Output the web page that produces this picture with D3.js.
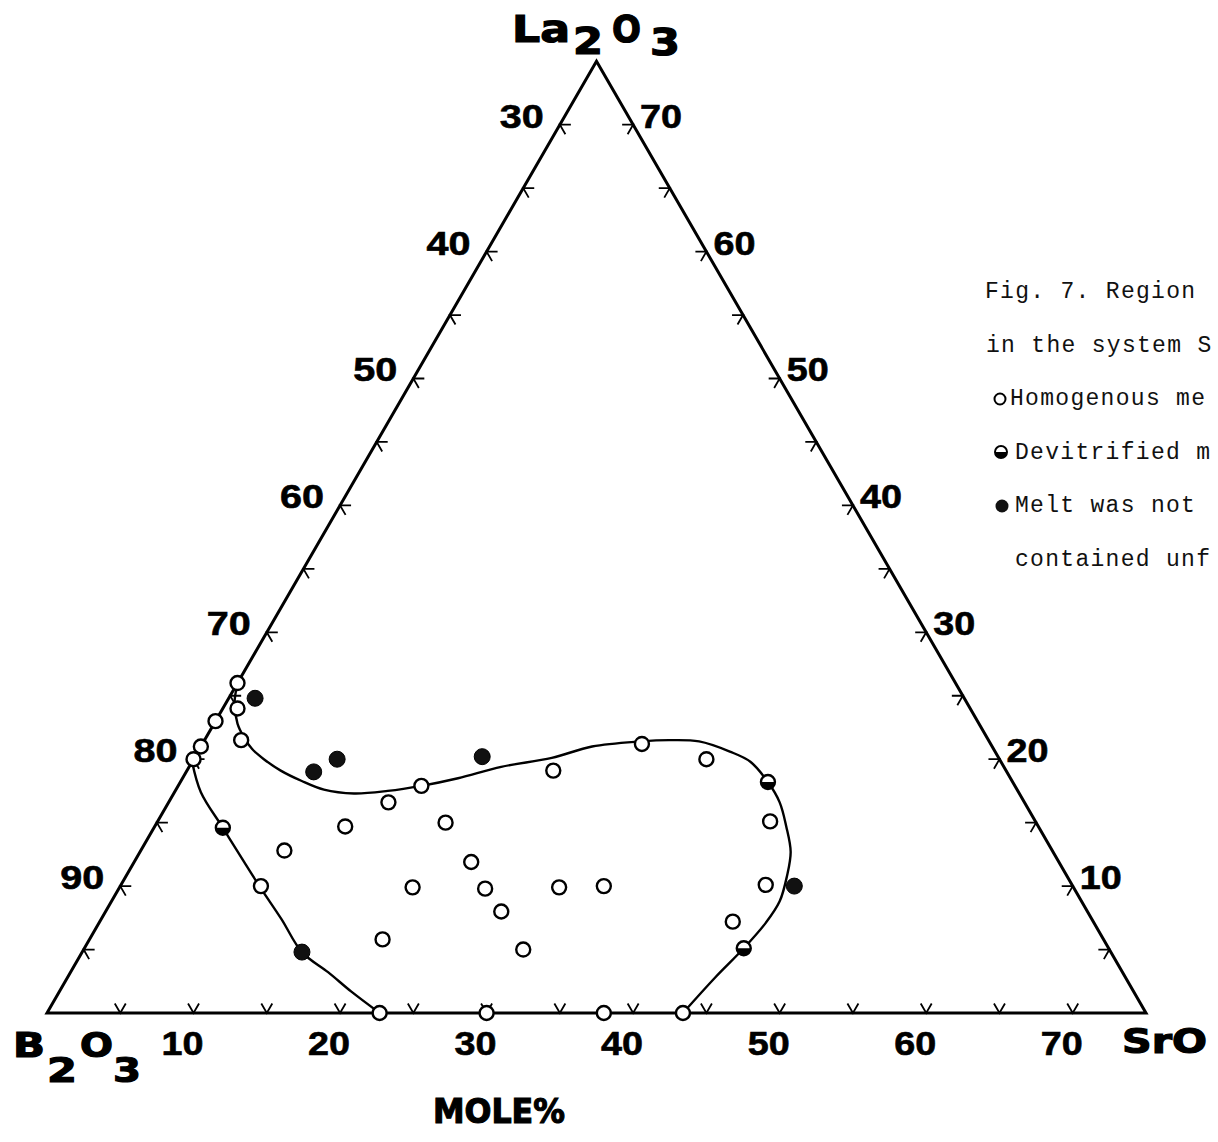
<!DOCTYPE html>
<html>
<head>
<meta charset="utf-8">
<script src="https://cdn.jsdelivr.net/npm/d3@7"></script>
<style>
  body { margin: 0; background: #fff; }
  svg { display: block; }
</style>
</head>
<body>
<script>
// compositions are [SrO, La2O3] in mole%, B2O3 is the rest
const homogeneous = [
  [0, 26], [1, 24], [0, 23], [2.5, 21.5], [0, 21], [0, 20],
  [16.6, 17.9], [15, 16.6], [13, 14.7], [19.7, 15], [9.8, 12.8], [23, 11.9],
  [20, 9.9], [25, 9.8], [9.6, 10], [25, 19.1], [30, 21.2], [35, 20],
  [41.8, 15.1], [44, 10.1], [43.2, 7.2], [30, 9.9], [33, 10], [27, 8],
  [30, 5], [20, 5.8], [22.7, 0], [30, 0], [38, 0], [43.4, 0]
];
const devitrified = [[4.7, 14.6], [40.1, 18.2], [45, 5.1]];
const notMelted = [[1.8, 24.8], [9.8, 20], [8.7, 19], [19.6, 20.2], [46, 10], [15, 4.8]];

// glass forming region boundaries
const upperBoundary = [
  [0, 26], [0.6, 24.4], [1.6, 22.8], [2.6, 21.7], [3.6, 20.8], [4.8, 20], [6.4, 19.1], [8.2, 18.3],
  [10.1, 17.6], [12.3, 17.3], [14.5, 17.5], [16.6, 17.9], [18.8, 18.5], [21.3, 19.4],
  [24.4, 20.1], [26.7, 21], [29.8, 21.4], [31.7, 21.5], [33.8, 21.4], [36.3, 20.6],
  [38.1, 19.8], [40.1, 18.2], [41.7, 16.6], [43.1, 14.7], [44.4, 12.7], [45.1, 10.8],
  [45.6, 8.8], [45.5, 7.1], [45, 5.1], [44.2, 2.8], [43.4, 0]
];
const lowerBoundary = [
  [0, 19.8], [1.8, 17.4], [4.7, 14.6], [7.5, 11.9], [9.6, 9.9], [12.3, 7.4],
  [15, 4.8], [17.6, 3.2], [19.9, 1.7], [22.7, 0]
];

const tickValues = [5, 10, 15, 20, 25, 30, 35, 40, 45, 50, 55, 60, 65, 70];
const bottomLabels = [10, 20, 30, 40, 50, 60, 70];      // SrO
const leftLabels = [30, 40, 50, 60, 70, 80, 90];        // B2O3
const rightLabels = [70, 60, 50, 40, 30, 20, 10];       // La2O3

// caption as far as the scan shows it
const legendLines = [
  "Fig. 7. Region",
  "in the system S",
  "Homogenous me",
  "Devitrified m",
  "Melt was not",
  "contained unf"
];

const W = 1218, H = 1142;
const svg = d3.select('body').append('svg')
  .attr('width', W)
  .attr('height', H);

// triangle side covers 75 mole%
const xScale = d3.scaleLinear().domain([0, 75]).range([47, 1146]);
const yScale = d3.scaleLinear().domain([0, 75]).range([1013, 1013 - 1099 * Math.sqrt(3) / 2]);
const px = d => xScale(d[0] + d[1] / 2);
const py = d => yScale(d[1]);

const line = d3.line().x(px).y(py);

// frame
svg.append('path')
  .attr('d', line([[0, 0], [75, 0], [0, 75]]) + 'Z')
  .attr('fill', 'none')
  .attr('stroke', '#000')
  .attr('stroke-width', 3)
  .attr('stroke-linejoin', 'miter');

// ticks
const len = 11, c = Math.cos(Math.PI / 3) * len, s = Math.sin(Math.PI / 3) * len;
const ticks = svg.append('g').attr('stroke', '#000').attr('stroke-width', 1.8).attr('fill', 'none');

ticks.selectAll('path.bottom').data(tickValues).join('path')
  .attr('class', 'bottom')
  .attr('d', v => {
    const x = px([v, 0]), y = py([v, 0]);
    return `M${x - c},${y - s}L${x},${y}L${x + c},${y - s}`;
  });

ticks.selectAll('path.left').data(tickValues).join('path')
  .attr('class', 'left')
  .attr('d', v => {
    const x = px([0, v]), y = py([0, v]);
    return `M${x + len},${y}L${x},${y}L${x + c},${y + s}`;
  });

ticks.selectAll('path.right').data(tickValues).join('path')
  .attr('class', 'right')
  .attr('d', v => {
    const x = px([75 - v, v]), y = py([75 - v, v]);
    return `M${x - len},${y}L${x},${y}L${x - c},${y + s}`;
  });

// tick labels
const num = svg.append('g')
  .attr('font-family', '"Liberation Sans", Arial, sans-serif')
  .attr('font-weight', 'bold')
  .attr('font-size', 33)
  .attr('fill', '#000')
  .attr('stroke', '#000')
  .attr('stroke-width', 0.6);

num.selectAll('text.bottom').data(bottomLabels).join('text')
  .attr('class', 'bottom')
  .attr('x', v => px([v, 0]) - 32)
  .attr('y', 1055)
  .attr('textLength', 42).attr('lengthAdjust', 'spacingAndGlyphs')
  .text(v => v);

num.selectAll('text.left').data(leftLabels).join('text')
  .attr('class', 'left')
  .attr('x', v => px([0, 100 - v]) - 60)
  .attr('y', v => py([0, 100 - v]) + 3)
  .attr('textLength', 44).attr('lengthAdjust', 'spacingAndGlyphs')
  .text(v => v);

num.selectAll('text.right').data(rightLabels).join('text')
  .attr('class', 'right')
  .attr('x', v => px([75 - v, v]) + 7)
  .attr('y', v => py([75 - v, v]) + 3)
  .attr('textLength', 42).attr('lengthAdjust', 'spacingAndGlyphs')
  .text(v => v);

// region boundaries
const curve = d3.line().x(px).y(py).curve(d3.curveCatmullRom.alpha(0.5));
svg.selectAll('path.boundary').data([upperBoundary, lowerBoundary]).join('path')
  .attr('class', 'boundary')
  .attr('d', curve)
  .attr('fill', 'none')
  .attr('stroke', '#000')
  .attr('stroke-width', 2.4);

// points
const r = 7;
svg.append('g').selectAll('circle').data(homogeneous).join('circle')
  .attr('cx', px).attr('cy', py).attr('r', r)
  .attr('fill', '#fff').attr('stroke', '#000').attr('stroke-width', 2.4);

const half = svg.append('g').selectAll('g').data(devitrified).join('g')
  .attr('transform', d => `translate(${px(d)},${py(d)})`);
half.append('circle').attr('r', r).attr('fill', '#fff').attr('stroke', '#000').attr('stroke-width', 2.4);
half.append('path')
  .attr('d', d3.arc()({innerRadius: 0, outerRadius: r, startAngle: Math.PI / 2, endAngle: Math.PI * 1.5}))
  .attr('fill', '#000');

svg.append('g').selectAll('circle').data(notMelted).join('circle')
  .attr('cx', px).attr('cy', py).attr('r', 8)
  .attr('fill', '#111').attr('stroke', '#000').attr('stroke-width', 1);

// component names, wide heavy lettering
const big = svg.append('g')
  .attr('font-family', '"DejaVu Sans", sans-serif')
  .attr('font-weight', 'bold')
  .attr('fill', '#000')
  .attr('stroke', '#000')
  .attr('stroke-width', 1.2);

function stretched(str, x, y, w, size) {
  big.append('text')
    .attr('x', x).attr('y', y)
    .attr('font-size', size)
    .attr('textLength', w).attr('lengthAdjust', 'spacingAndGlyphs')
    .text(str);
}

stretched('La', 512, 42, 58, 37);
stretched('2', 573, 54, 30, 37);
stretched('O', 612, 42, 29, 37);
stretched('3', 650, 55, 30, 37);

stretched('B', 13, 1057, 32, 34);
stretched('2', 47, 1082, 30, 34);
stretched('O', 80, 1057, 33, 34);
stretched('3', 113, 1082, 28, 34);

stretched('SrO', 1122, 1053, 85, 34);
stretched('MOLE%', 433, 1123, 132, 34);

// caption and key (the scan is cut at the right edge)
const leg = svg.append('g')
  .attr('font-family', '"Courier New", "Liberation Mono", monospace')
  .attr('font-size', 23)
  .attr('letter-spacing', 1.3)
  .attr('fill', '#111');

const legX = [985, 986, 1010, 1015, 1015, 1015];
leg.selectAll('text').data(legendLines).join('text')
  .attr('x', (d, i) => legX[i])
  .attr('y', (d, i) => 298 + i * 53.6)
  .text(d => d);

leg.append('circle').attr('cx', 1000).attr('cy', 399).attr('r', 5.5)
  .attr('fill', '#fff').attr('stroke', '#000').attr('stroke-width', 2);
const lh = leg.append('g').attr('transform', 'translate(1001,452)');
lh.append('circle').attr('r', 6).attr('fill', '#fff').attr('stroke', '#000').attr('stroke-width', 2);
lh.append('path')
  .attr('d', d3.arc()({innerRadius: 0, outerRadius: 6, startAngle: Math.PI / 2, endAngle: Math.PI * 1.5}))
  .attr('fill', '#000');
leg.append('circle').attr('cx', 1002).attr('cy', 506).attr('r', 6.5).attr('fill', '#111');
</script>
</body>
</html>
